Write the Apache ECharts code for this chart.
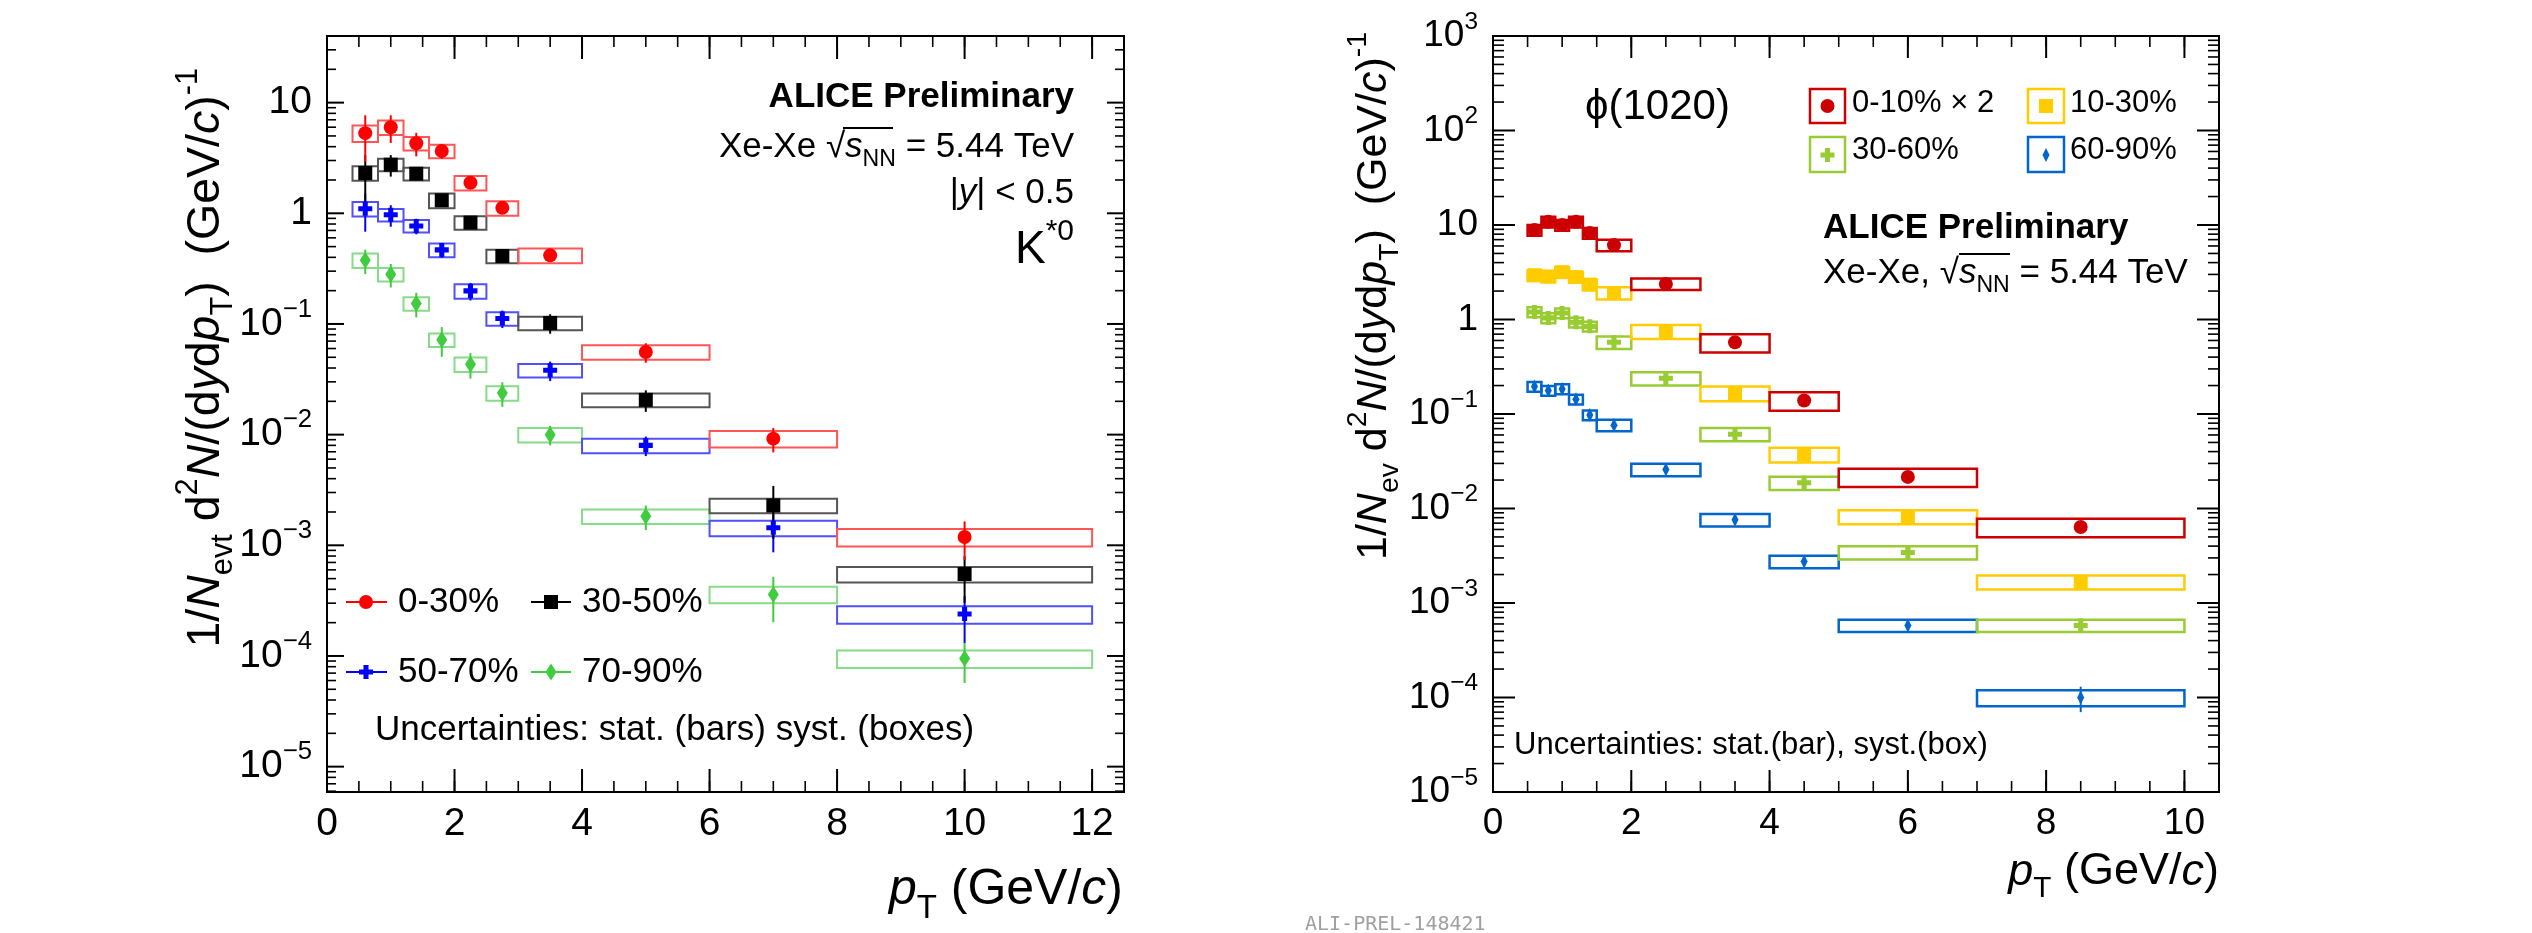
<!DOCTYPE html>
<html>
<head>
<meta charset="utf-8">
<script src="https://cdn.jsdelivr.net/npm/echarts@6/dist/echarts.min.js"></script>
<style>
html, body { margin: 0; padding: 0; background: #fff; }
#chart { width: 2532px; height: 933px; }
</style>
</head>
<body>
<div id="chart"></div>
<script>
const FONT = '"Liberation Sans", Arial, Helvetica, sans-serif';

// ---- K*0 spectra (left panel) ----
const kstarPtLo = [0.4, 0.8, 1.2, 1.6, 2.0, 2.5, 3.0, 4.0, 6.0, 8.0];
const kstarPtHi = [0.8, 1.2, 1.6, 2.0, 2.5, 3.0, 4.0, 6.0, 8.0, 12.0];
const kstarPt = [0.6, 1.0, 1.4, 1.8, 2.25, 2.75, 3.5, 5.0, 7.0, 10.0];

const kstar0030 = [5.3, 6.0, 4.3, 3.66, 1.89, 1.12, 0.417, 0.0558, 0.0092, 0.00119];
const kstar0030Stat = [0.45, 0.28, 0.24, 0.15, 0.12, 0.08, 0.05, 0.2, 0.25, 0.38];
const kstar0030Syst = [0.17, 0.15, 0.14, 0.14, 0.15, 0.15, 0.15, 0.15, 0.17, 0.18];

const kstar3050 = [2.31, 2.75, 2.28, 1.31, 0.824, 0.411, 0.102, 0.0206, 0.00229, 0.00055];
const kstar3050Stat = [0.45, 0.22, 0.12, 0.12, 0.06, 0.06, 0.2, 0.22, 0.5, 0.45];
const kstar3050Syst = [0.15, 0.13, 0.13, 0.15, 0.14, 0.14, 0.14, 0.14, 0.15, 0.16];

const kstar5070 = [1.10, 0.97, 0.769, 0.467, 0.199, 0.112, 0.0381, 0.0080, 0.00144, 0.000239];
const kstar5070Stat = [0.38, 0.22, 0.16, 0.15, 0.18, 0.18, 0.2, 0.2, 0.4, 0.45];
const kstar5070Syst = [0.15, 0.13, 0.13, 0.14, 0.15, 0.14, 0.14, 0.15, 0.16, 0.18];

const kstar7090 = [0.376, 0.281, 0.153, 0.0721, 0.0433, 0.0238, 0.0100, 0.00183, 0.00036, 0.000095];
const kstar7090Stat = [0.25, 0.24, 0.25, 0.3, 0.26, 0.25, 0.2, 0.25, 0.44, 0.4];
const kstar7090Syst = [0.15, 0.14, 0.14, 0.14, 0.15, 0.15, 0.15, 0.15, 0.17, 0.18];

// ---- phi(1020) spectra (right panel) ----
const phiPtLo = [0.5, 0.7, 0.9, 1.1, 1.3, 1.5, 2.0, 3.0, 4.0, 5.0, 7.0];
const phiPtHi = [0.7, 0.9, 1.1, 1.3, 1.5, 2.0, 3.0, 4.0, 5.0, 7.0, 10.0];
const phiPt = [0.6, 0.8, 1.0, 1.2, 1.4, 1.75, 2.5, 3.5, 4.5, 6.0, 8.5];

const phi0010 = [8.85, 10.8, 10.0, 10.8, 8.22, 6.13, 2.38, 0.573, 0.139, 0.0216, 0.00637];
const phi0010Stat = [0.06, 0.06, 0.06, 0.06, 0.06, 0.05, 0.04, 0.05, 0.06, 0.08, 0.1];
const phi0010Syst = [0.13, 0.13, 0.13, 0.13, 0.13, 0.14, 0.14, 0.22, 0.22, 0.22, 0.22];

const phi1030 = [2.94, 2.85, 3.17, 2.81, 2.34, 1.91, 0.748, 0.166, 0.0373, 0.00819, 0.00167];
const phi1030Stat = [0.05, 0.05, 0.05, 0.05, 0.05, 0.05, 0.04, 0.05, 0.06, 0.07, 0.09];
const phi1030Syst = [0.13, 0.13, 0.13, 0.13, 0.13, 0.15, 0.17, 0.18, 0.18, 0.17, 0.17];

const phi3060 = [1.20, 1.04, 1.17, 0.933, 0.846, 0.573, 0.239, 0.0612, 0.0187, 0.00343, 0.000579];
const phi3060Stat = [0.06, 0.06, 0.06, 0.06, 0.06, 0.05, 0.05, 0.06, 0.07, 0.08, 0.1];
const phi3060Syst = [0.12, 0.12, 0.12, 0.12, 0.12, 0.15, 0.16, 0.16, 0.16, 0.16, 0.15];

const phi6090 = [0.195, 0.177, 0.184, 0.143, 0.0975, 0.0762, 0.0258, 0.0076, 0.00275, 0.000579, 0.000100];
const phi6090Stat = [0.07, 0.07, 0.07, 0.07, 0.07, 0.07, 0.08, 0.1, 0.12, 0.12, 0.3];
const phi6090Syst = [0.12, 0.12, 0.12, 0.12, 0.12, 0.14, 0.15, 0.15, 0.15, 0.15, 0.19];

// ---- axis ticks and labels ----
const kstarXTicks = [0, 2, 4, 6, 8, 10, 12];
const kstarYTicks = [1e-5, 1e-4, 1e-3, 1e-2, 1e-1, 1, 10];
const phiXTicks = [0, 2, 4, 6, 8, 10];
const phiYTicks = [1e-5, 1e-4, 1e-3, 1e-2, 1e-1, 1, 10, 100, 1000];

const KSTAR_X = [0, 12.5], KSTAR_Y = [5.9e-6, 40];
const PHI_X = [0, 10.5], PHI_Y = [1e-5, 1e3];

function minorLinear(max) {
    const out = [];
    for (let v = 0.5; v < max; v += 0.5) out.push(v);
    return out;
}
function minorLog(min, max) {
    const out = [];
    for (let e = -6; e <= 3; e++) {
        for (let k = 2; k <= 9; k++) {
            const v = k * Math.pow(10, e);
            if (v > min && v < max) out.push(v);
        }
    }
    return out;
}

const CROSS = 'path://M3.2,0H6.8V3.2H10V6.8H6.8V10H3.2V6.8H0V3.2H3.2Z';

function powerLabel(value) {
    const e = Math.round(Math.log10(value));
    if (e === 0) return '{b|1}';
    if (e === 1) return '{b|10}';
    return '{b|10}{s|' + (e < 0 ? '\u2212' + (-e) : e) + '}';
}

function xAxisFor(gridIndex, range, labels, fontSize) {
    return {
        type: 'value', gridIndex, min: range[0], max: range[1], position: 'bottom',
        splitLine: { show: false }, axisLine: { show: false, onZero: false }, axisTick: { show: false },
        axisLabel: { show: true, customValues: labels, margin: 13, fontSize, fontFamily: FONT, color: '#000' }
    };
}

function yAxisFor(gridIndex, range, labels, fontSize) {
    return {
        type: 'log', logBase: 10, gridIndex, min: range[0], max: range[1], position: 'left',
        splitLine: { show: false }, axisLine: { show: false, onZero: false }, axisTick: { show: false },
        axisLabel: {
            show: true, customValues: labels, margin: 15, formatter: powerLabel,
            rich: {
                b: { fontSize, lineHeight: fontSize * 1.4, fontFamily: FONT, color: '#000' },
                s: { fontSize: fontSize * 0.66, verticalAlign: 'top', fontFamily: FONT, color: '#000' }
            }
        }
    };
}

// inward ticks on all four sides of a frame, placed through the axes' own scales
function tickSeries(axisIndex, xRange, yRange, xMajor, yMajor, len) {
    const items = [];
    minorLinear(xRange[1]).forEach(v => items.push([v, yRange[1], len.xMinor, 0]));
    xMajor.forEach(v => items.push([v, yRange[1], len.xMajor, 0]));
    minorLog(yRange[0], yRange[1]).forEach(v => items.push([xRange[0], v, len.yMinor, 1]));
    yMajor.forEach(v => items.push([xRange[0], v, len.yMajor, 1]));
    return {
        type: 'custom',
        xAxisIndex: axisIndex,
        yAxisIndex: axisIndex,
        clip: false,
        silent: true,
        z: 6,
        encode: { x: 0, y: 1 },
        renderItem(params, api) {
            const cs = params.coordSys;
            const p = api.coord([api.value(0), api.value(1)]);
            const l = api.value(2);
            const w = l > 13 ? 2 : 1.6;
            const segs = api.value(3) === 0
                ? [[p[0], cs.y + cs.height, p[0], cs.y + cs.height - l], [p[0], cs.y, p[0], cs.y + l]]
                : [[cs.x, p[1], cs.x + l, p[1]], [cs.x + cs.width, p[1], cs.x + cs.width - l, p[1]]];
            return {
                type: 'group',
                children: segs.map(s => ({
                    type: 'line',
                    shape: { x1: s[0], y1: s[1], x2: s[2], y2: s[3] },
                    style: { stroke: '#000', lineWidth: w }
                }))
            };
        },
        data: items
    };
}

function spectrum(axisIndex, lo, hi, pt, y, stat, syst, color, boxColor, boxWidth, symbol, symbolSize) {
    const boxes = pt.map((p, i) => [p, lo[i], hi[i], y[i],
        y[i] * (1 - stat[i]), y[i] * (1 + stat[i]),
        y[i] * (1 - syst[i]), y[i] * (1 + syst[i])]);
    return [{
        type: 'custom',
        xAxisIndex: axisIndex,
        yAxisIndex: axisIndex,
        clip: true,
        silent: true,
        z: 2,
        encode: { x: [0, 1, 2], y: [3, 4, 5, 6, 7] },
        renderItem(params, api) {
            const a = api.coord([api.value(1), api.value(7)]);
            const b = api.coord([api.value(2), api.value(6)]);
            const s0 = api.coord([api.value(0), api.value(4)]);
            const s1 = api.coord([api.value(0), api.value(5)]);
            return {
                type: 'group',
                children: [{
                    type: 'rect',
                    shape: { x: a[0], y: a[1], width: b[0] - a[0], height: b[1] - a[1] },
                    style: { fill: 'none', stroke: boxColor, lineWidth: boxWidth }
                }, {
                    type: 'line',
                    shape: { x1: s0[0], y1: s0[1], x2: s1[0], y2: s1[1] },
                    style: { stroke: color, lineWidth: 2 }
                }]
            };
        },
        data: boxes
    }, {
        type: 'scatter',
        xAxisIndex: axisIndex,
        yAxisIndex: axisIndex,
        silent: true,
        z: 3,
        symbol,
        symbolSize,
        itemStyle: { color, opacity: 1 },
        data: pt.map((p, i) => [p, y[i]])
    }];
}

function richStyles(size) {
    const sub = size * 0.66;
    return {
        t: { fontSize: size, fontFamily: FONT, lineHeight: size * 1.4, fill: '#000' },
        i: { fontSize: size, fontFamily: FONT, fontStyle: 'italic', lineHeight: size * 1.4, fill: '#000' },
        b: { fontSize: size, fontFamily: FONT, fontWeight: 'bold', lineHeight: size * 1.4, fill: '#000' },
        sub: { fontSize: sub, fontFamily: FONT, verticalAlign: 'bottom', fill: '#000' },
        sup: { fontSize: sub, fontFamily: FONT, verticalAlign: 'top', fill: '#000' }
    };
}

function label(x, y, text, size, align, rotation) {
    return {
        type: 'text', x, y, rotation: rotation || 0, silent: true, z: 10,
        style: {
            text, rich: richStyles(size), fill: '#000', fontSize: size, fontFamily: FONT,
            align, textAlign: align, verticalAlign: 'middle', textVerticalAlign: 'middle'
        }
    };
}

function hline(x1, x2, y, color, width) {
    return { type: 'line', silent: true, z: 10, shape: { x1, y1: y, x2, y2: y }, style: { stroke: color, lineWidth: width } };
}

function crossShape(cx, cy, size, color) {
    const h = size / 2, t = size * 0.18;
    return {
        type: 'polygon', silent: true, z: 11,
        shape: { points: [
            [cx - t, cy - h], [cx + t, cy - h], [cx + t, cy - t], [cx + h, cy - t], [cx + h, cy + t], [cx + t, cy + t],
            [cx + t, cy + h], [cx - t, cy + h], [cx - t, cy + t], [cx - h, cy + t], [cx - h, cy - t], [cx - t, cy - t]
        ] },
        style: { fill: color }
    };
}

function diamondShape(cx, cy, w, h, color) {
    return {
        type: 'polygon', silent: true, z: 11,
        shape: { points: [[cx, cy - h / 2], [cx + w / 2, cy], [cx, cy + h / 2], [cx - w / 2, cy]] },
        style: { fill: color }
    };
}

function boxOutline(x, y, w, h, color) {
    return { type: 'rect', silent: true, z: 10, shape: { x, y, width: w, height: h }, style: { fill: 'none', stroke: color, lineWidth: 2.5 } };
}

const RED = '#ff0000', BLACK = '#000000', BLUE = '#0000ff', GREEN = '#3fcc3f';
const P_RED = '#cc0000', P_YELLOW = '#ffcc00', P_GREEN = '#99cc33', P_BLUE = '#0066cc';

const graphics = [
    // left panel annotations
    label(1074, 97, '{b|ALICE Preliminary}', 35, 'right'),
    label(1074, 147, '{t|Xe-Xe \u221A}{i|s}{sub|NN}{t| = 5.44 TeV}', 35, 'right'),
    hline(843, 893, 128, '#000', 2),
    label(1074, 193, '{t||}{i|y}{t|| < 0.5}', 35, 'right'),
    {
        type: 'text', x: 1074, y: 250, silent: true, z: 10,
        style: {
            text: '{k|K}{s|*0}', align: 'right', textAlign: 'right', verticalAlign: 'middle', textVerticalAlign: 'middle',
            rich: {
                k: { fontSize: 46, lineHeight: 66, fontFamily: FONT, fill: '#000' },
                s: { fontSize: 30, verticalAlign: 'top', fontFamily: FONT, fill: '#000' }
            }
        }
    },
    hline(346, 387, 602, RED, 2),
    { type: 'circle', silent: true, z: 11, shape: { cx: 366, cy: 602, r: 7 }, style: { fill: RED } },
    label(398, 602, '{t|0-30%}', 35, 'left'),
    hline(531, 571, 602, BLACK, 2),
    { type: 'rect', silent: true, z: 11, shape: { x: 544, y: 595, width: 14, height: 14 }, style: { fill: BLACK } },
    label(582, 602, '{t|30-50%}', 35, 'left'),
    hline(346, 387, 672, BLUE, 2),
    crossShape(366, 672, 14, BLUE),
    label(398, 672, '{t|50-70%}', 35, 'left'),
    hline(531, 571, 672, GREEN, 2),
    diamondShape(551, 672, 11, 17, GREEN),
    label(582, 672, '{t|70-90%}', 35, 'left'),
    label(375, 730, '{t|Uncertainties: stat. (bars) syst. (boxes)}', 35, 'left'),
    label(206, 68, '{t|1/}{i|N}{sub|evt}{t| d}{sup|2}{i|N}{t|/(d}{i|y}{t|d}{i|p}{sub|T}{t|)  (GeV/}{i|c}{t|)}{sup|-1}', 46.5, 'right', Math.PI / 2),
    label(1123, 890, '{i|p}{sub|T}{t| (GeV/}{i|c}{t|)}', 50, 'right'),

    // right panel annotations
    label(1585, 107, '{t|\u03D5(1020)}', 42, 'left'),
    boxOutline(1810, 89, 35, 34, P_RED),
    { type: 'circle', silent: true, z: 11, shape: { cx: 1827.5, cy: 106, r: 7 }, style: { fill: P_RED } },
    label(1852, 103, '{t|0-10% \u00D7 2}', 31, 'left'),
    boxOutline(2028, 89, 36, 34, P_YELLOW),
    { type: 'rect', silent: true, z: 11, shape: { x: 2039, y: 99, width: 14, height: 14 }, style: { fill: P_YELLOW } },
    label(2070, 103, '{t|10-30%}', 31, 'left'),
    boxOutline(1810, 137, 35, 35, P_GREEN),
    crossShape(1827.5, 155, 14, P_GREEN),
    label(1852, 150, '{t|30-60%}', 31, 'left'),
    boxOutline(2028, 137, 36, 35, P_BLUE),
    diamondShape(2046, 155, 7, 14, P_BLUE),
    label(2070, 150, '{t|60-90%}', 31, 'left'),
    label(1823, 228, '{b|ALICE Preliminary}', 35, 'left'),
    label(1823, 273, '{t|Xe-Xe, \u221A}{i|s}{sub|NN}{t| = 5.44 TeV}', 35, 'left'),
    hline(1959, 2010, 254, '#000', 2),
    label(1514, 745, '{t|Uncertainties: stat.(bar), syst.(box)}', 31, 'left'),
    label(1374, 32, '{t|1/}{i|N}{sub|ev}{t| d}{sup|2}{i|N}{t|/(d}{i|y}{t|d}{i|p}{sub|T}{t|)  (GeV/}{i|c}{t|)}{sup|-1}', 43, 'right', Math.PI / 2),
    label(2219, 872, '{i|p}{sub|T}{t| (GeV/}{i|c}{t|)}', 45, 'right'),
    {
        type: 'text', x: 1305, y: 925, silent: true, z: 10,
        style: { text: 'ALI-PREL-148421', fontSize: 20, fontFamily: '"DejaVu Sans Mono", monospace', fill: '#a0a0a0',
                 align: 'left', textAlign: 'left', verticalAlign: 'middle', textVerticalAlign: 'middle' }
    }
];

const chart = echarts.init(document.getElementById('chart'));

chart.setOption({
    animation: false,
    backgroundColor: '#fff',
    textStyle: { fontFamily: FONT },
    grid: [
        { left: 327, top: 36, width: 797, height: 756, show: true, borderColor: '#000', borderWidth: 2,
          backgroundColor: 'transparent', outerBoundsMode: 'none' },
        { left: 1493, top: 36, width: 726, height: 756, show: true, borderColor: '#000', borderWidth: 2,
          backgroundColor: 'transparent', outerBoundsMode: 'none' }
    ],
    xAxis: [
        xAxisFor(0, KSTAR_X, kstarXTicks, 39),
        xAxisFor(1, PHI_X, phiXTicks, 37)
    ],
    yAxis: [
        yAxisFor(0, KSTAR_Y, kstarYTicks, 39),
        yAxisFor(1, PHI_Y, phiYTicks, 37)
    ],
    series: [
        tickSeries(0, KSTAR_X, KSTAR_Y, kstarXTicks, kstarYTicks, { xMajor: 23, xMinor: 11, yMajor: 17, yMinor: 9 }),
        tickSeries(1, PHI_X, PHI_Y, phiXTicks, phiYTicks, { xMajor: 22, xMinor: 11, yMajor: 22, yMinor: 11 }),
        ...spectrum(0, kstarPtLo, kstarPtHi, kstarPt, kstar7090, kstar7090Stat, kstar7090Syst, GREEN, '#86dc86', 2, 'diamond', [11, 17]),
        ...spectrum(0, kstarPtLo, kstarPtHi, kstarPt, kstar5070, kstar5070Stat, kstar5070Syst, BLUE, '#5050ff', 2, CROSS, 14),
        ...spectrum(0, kstarPtLo, kstarPtHi, kstarPt, kstar3050, kstar3050Stat, kstar3050Syst, BLACK, '#555555', 2, 'rect', 14),
        ...spectrum(0, kstarPtLo, kstarPtHi, kstarPt, kstar0030, kstar0030Stat, kstar0030Syst, RED, '#ff5555', 2, 'circle', 14),
        ...spectrum(1, phiPtLo, phiPtHi, phiPt, phi6090, phi6090Stat, phi6090Syst, P_BLUE, P_BLUE, 2.5, 'diamond', [7, 14]),
        ...spectrum(1, phiPtLo, phiPtHi, phiPt, phi3060, phi3060Stat, phi3060Syst, P_GREEN, P_GREEN, 2.5, CROSS, 14),
        ...spectrum(1, phiPtLo, phiPtHi, phiPt, phi1030, phi1030Stat, phi1030Syst, P_YELLOW, P_YELLOW, 2.5, 'rect', 14),
        ...spectrum(1, phiPtLo, phiPtHi, phiPt, phi0010, phi0010Stat, phi0010Syst, P_RED, P_RED, 2.5, 'circle', 14)
    ],
    graphic: graphics
});

window.addEventListener('resize', () => chart.resize());
</script>
</body>
</html>
